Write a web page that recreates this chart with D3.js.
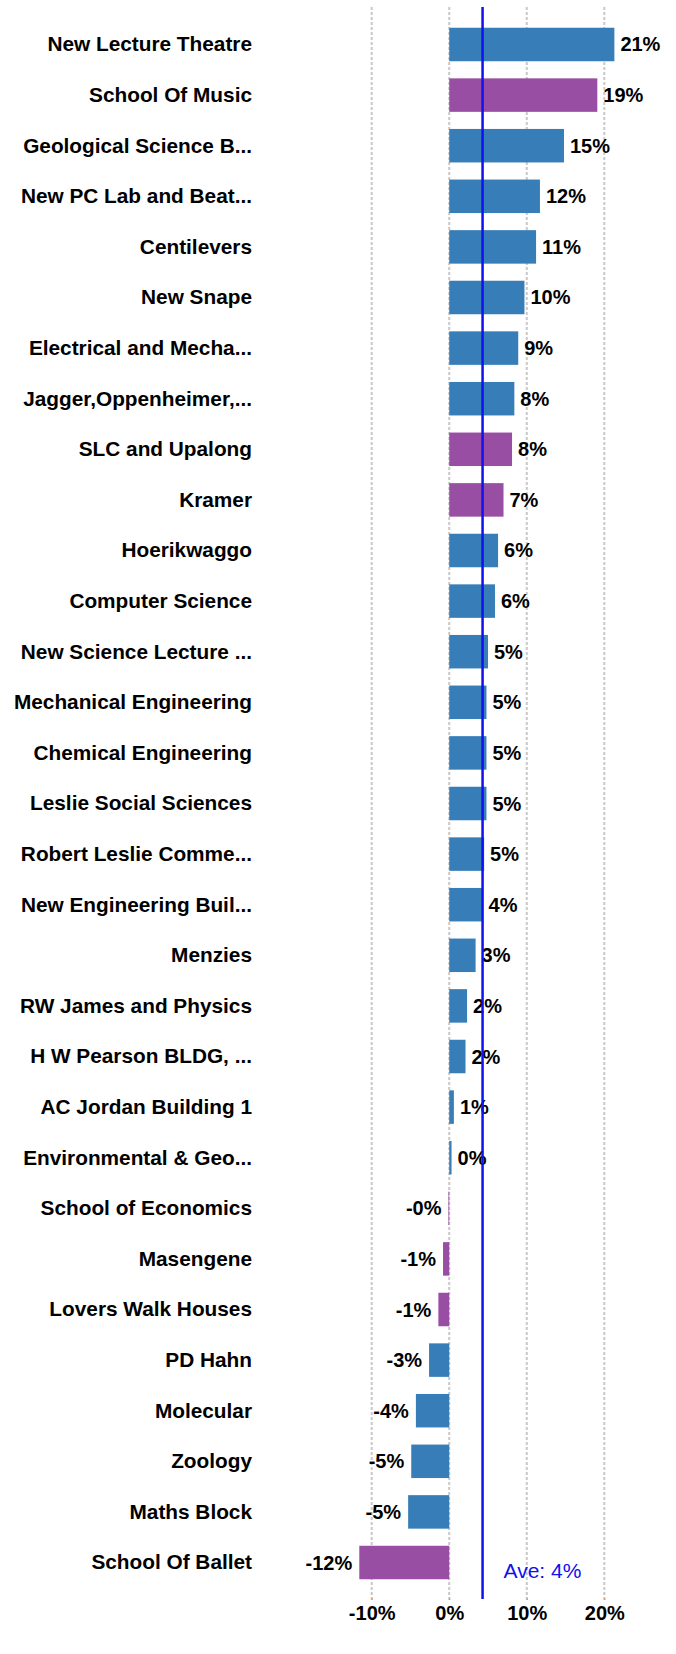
<!DOCTYPE html>
<html>
<head>
<meta charset="utf-8">
<script src="https://cdn.jsdelivr.net/npm/d3@7"></script>
<style>
  body { margin: 0; background: #fff; }
  text { font-family: "Liberation Sans", Arial, sans-serif; }
</style>
</head>
<body>
<div id="graph"></div>
<script>
// Chart data
let buildings = [
  "New Lecture Theatre", "School Of Music", "Geological Science B...", "New PC Lab and Beat...",
  "Centilevers", "New Snape", "Electrical and Mecha...", "Jagger,Oppenheimer,...",
  "SLC and Upalong", "Kramer", "Hoerikwaggo", "Computer Science",
  "New Science Lecture ...", "Mechanical Engineering", "Chemical Engineering", "Leslie Social Sciences",
  "Robert Leslie Comme...", "New Engineering Buil...", "Menzies", "RW James and Physics",
  "H W Pearson BLDG, ...", "AC Jordan Building 1", "Environmental & Geo...", "School of Economics",
  "Masengene", "Lovers Walk Houses", "PD Hahn", "Molecular",
  "Zoology", "Maths Block", "School Of Ballet"
];
let change = [
  21.3, 19.1, 14.8, 11.7,
  11.2, 9.7, 8.9, 8.4,
  8.1, 7.0, 6.3, 5.9,
  5.0, 4.8, 4.8, 4.8,
  4.5, 4.3, 3.4, 2.3,
  2.1, 0.6, 0.3, -0.1,
  -0.8, -1.4, -2.6, -4.3,
  -4.9, -5.3, -11.6
];
let group = [
  "a", "b", "a", "a",
  "a", "a", "a", "a",
  "b", "b", "a", "a",
  "a", "a", "a", "a",
  "a", "a", "a", "a",
  "a", "a", "a", "b",
  "b", "b", "a", "a",
  "a", "a", "b"
];
let xTicks = [-10, 0, 10, 20];
let average = 4.3;

let data = buildings.map((name, i) => ({ name: name, value: change[i], group: group[i] }));

let graph = {
  width: 676,
  height: 1654,
  top: 7,
  bottom: 1600,
  colors: { a: "#377eb8", b: "#984ea3" }
};

let pct = (v) => (v < 0 ? "-" : "") + Math.abs(Math.round(v)) + "%";

let svg = d3.select("#graph").append("svg")
  .attr("width", graph.width)
  .attr("height", graph.height);

let xScale = d3.scaleLinear()
  .domain([-10, 20])
  .range([371.7, 604.3]);

let yScale = d3.scaleBand()
  .domain(buildings)
  .range([graph.top, graph.bottom])
  .paddingInner(0.338)
  .paddingOuter(0.41);

// Dashed gridlines
svg.append("g").selectAll("line")
  .data(xTicks).enter()
  .append("line")
  .attr("x1", (d) => xScale(d))
  .attr("x2", (d) => xScale(d))
  .attr("y1", graph.top)
  .attr("y2", graph.bottom)
  .attr("stroke", "#c8c8c8")
  .attr("stroke-width", 2)
  .attr("stroke-dasharray", "3,2");

// Bottom axis
let xAxis = d3.axisBottom(xScale)
  .tickValues(xTicks)
  .tickSize(2)
  .tickPadding(6)
  .tickFormat(pct);

let axisG = svg.append("g")
  .attr("transform", `translate(0, ${graph.bottom - 2})`)
  .call(xAxis);
axisG.select(".domain").remove();
axisG.selectAll(".tick line").attr("stroke", "#f28e2b");
axisG.selectAll(".tick text")
  .attr("fill", "#000")
  .style("font-family", "'Liberation Sans', Arial, sans-serif")
  .style("font-size", "20px")
  .style("font-weight", "bold");

// Category labels
svg.append("g").selectAll("text")
  .data(data).enter()
  .append("text")
  .attr("x", 252)
  .attr("y", (d) => yScale(d.name) + yScale.bandwidth() / 2)
  .attr("dy", "0.33em")
  .attr("text-anchor", "end")
  .style("font-size", "20.8px")
  .style("font-weight", "bold")
  .text((d) => d.name);

// Bars
svg.append("g").selectAll("rect")
  .data(data).enter()
  .append("rect")
  .attr("x", (d) => xScale(Math.min(0, d.value)))
  .attr("y", (d) => yScale(d.name))
  .attr("width", (d) => Math.abs(xScale(d.value) - xScale(0)))
  .attr("height", yScale.bandwidth())
  .attr("fill", (d) => graph.colors[d.group]);

// Value labels
svg.append("g").selectAll("text")
  .data(data).enter()
  .append("text")
  .attr("x", (d) => d.value < 0 ? xScale(d.value) - 7 : xScale(d.value) + 6)
  .attr("y", (d) => yScale(d.name) + yScale.bandwidth() / 2)
  .attr("dy", "0.35em")
  .attr("text-anchor", (d) => d.value < 0 ? "end" : "start")
  .style("font-size", "20px")
  .style("font-weight", "bold")
  .text((d) => pct(d.value));

// Average line and label
svg.append("line")
  .attr("x1", xScale(average))
  .attr("x2", xScale(average))
  .attr("y1", graph.top)
  .attr("y2", graph.bottom - 1)
  .attr("stroke", "#1010f0")
  .attr("stroke-width", 2.5);

svg.append("text")
  .attr("x", xScale(average) + 21)
  .attr("y", 1578)
  .attr("fill", "#1010f0")
  .style("font-size", "21px")
  .text("Ave: " + pct(average));
</script>
</body>
</html>
